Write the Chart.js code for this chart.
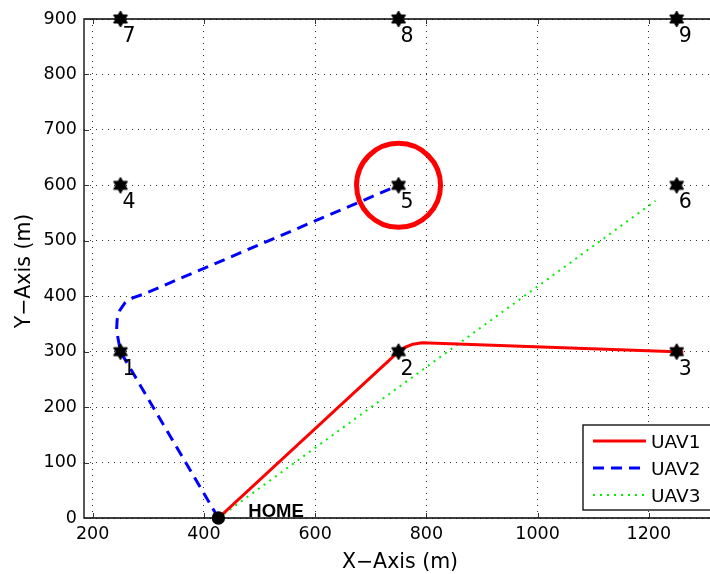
<!DOCTYPE html>
<html><head><meta charset="utf-8">
<script src="https://cdn.jsdelivr.net/npm/chart.js@4.4.1/dist/chart.umd.min.js"></script>
<style>html,body{margin:0;padding:0;background:#fff;overflow:hidden}canvas{display:block}</style>
</head><body>
<canvas id="c" width="710" height="574"></canvas>
<script>
// ---- data ----
const xTicks = [200, 400, 600, 800, 1000, 1200];
const yTicks = [0, 100, 200, 300, 400, 500, 600, 700, 800, 900];
const waypointX = [250, 750, 1250, 250, 750, 1250, 250, 750, 1250];
const waypointY = [300, 300, 300, 600, 600, 600, 900, 900, 900];
const waypointLabels = ['1', '2', '3', '4', '5', '6', '7', '8', '9'];
const homeX = [426];
const homeY = [0];
const homeLabel = 'HOME';
const targetX = [750];
const targetY = [600];
const uav1X = [426, 750, 762, 776, 792, 1262];
const uav1Y = [0, 300, 308, 313.5, 316, 299.5];
const uav2X = [426, 250, 243, 244, 249, 258, 272, 292, 750];
const uav2Y = [0, 300, 338, 358, 375, 388, 397, 404, 600];
const uav3X = [426, 1212];
const uav3Y = [0, 572];
const seriesNames = ['UAV1', 'UAV2', 'UAV3'];
const xTitle = 'X\u2212Axis (m)';
const yTitle = 'Y\u2212Axis (m)';

const pts = (xs, ys) => xs.map((v, i) => ({x: v, y: ys[i]}));

// hexagram marker
const star = document.createElement('canvas');
star.width = 20; star.height = 20;
(function () {
  const g = star.getContext('2d');
  const R = 8, r = R / Math.sqrt(3);
  g.fillStyle = '#000';
  g.strokeStyle = '#000';
  g.lineWidth = 1;
  g.lineJoin = 'round';
  g.beginPath();
  for (let k = 0; k < 12; k++) {
    const ang = -Math.PI / 2 + k * Math.PI / 6;
    const rad = k % 2 === 0 ? R : r;
    const px = 10 + rad * Math.cos(ang), py = 10 + rad * Math.sin(ang);
    k === 0 ? g.moveTo(px, py) : g.lineTo(px, py);
  }
  g.closePath();
  g.fill();
  g.stroke();
})();

const FONT = '"DejaVu Sans", sans-serif';

const framePlugin = {
  id: 'frame',
  beforeDatasetsDraw(chart) {
    const {ctx, chartArea: a, scales: {x, y}} = chart;
    ctx.save();
    ctx.setLineDash([]);
    ctx.strokeStyle = '#000';
    ctx.lineWidth = 1.3;
    ctx.beginPath();
    ctx.moveTo(a.right + 5, a.top); ctx.lineTo(a.left, a.top);
    ctx.lineTo(a.left, a.bottom); ctx.lineTo(a.right + 5, a.bottom);
    ctx.stroke();
    ctx.lineWidth = 1;
    ctx.strokeStyle = '#333';
    ctx.beginPath();
    xTicks.forEach(v => {
      const px = Math.round(x.getPixelForValue(v)) + 0.5;
      ctx.moveTo(px, a.bottom); ctx.lineTo(px, a.bottom - 5);
      ctx.moveTo(px, a.top); ctx.lineTo(px, a.top + 5);
    });
    yTicks.forEach(v => {
      const py = Math.round(y.getPixelForValue(v)) + 0.5;
      ctx.moveTo(a.left, py); ctx.lineTo(a.left + 5, py);
    });
    ctx.stroke();
    ctx.restore();
  }
};

const overlayPlugin = {
  id: 'overlay',
  afterDatasetsDraw(chart) {
    const {ctx, scales: {x, y}} = chart;
    ctx.save();
    // waypoint numbers
    ctx.fillStyle = '#000';
    ctx.font = '20.5px ' + FONT;
    ctx.textAlign = 'left';
    ctx.textBaseline = 'alphabetic';
    waypointX.forEach((v, i) => {
      const px = x.getPixelForValue(v), py = y.getPixelForValue(waypointY[i]);
      ctx.fillText(waypointLabels[i], px + 2, py + 23);
    });
    // HOME
    ctx.font = 'bold 18.5px "Liberation Sans", Arial, sans-serif';
    const hx = x.getPixelForValue(homeX[0]), hy = y.getPixelForValue(homeY[0]);
    ctx.fillText(homeLabel, hx + 30, hy - 1.5);
    // axis titles
    ctx.font = '20.5px ' + FONT;
    ctx.textAlign = 'center';
    ctx.fillText(xTitle, 400, 568);
    ctx.save();
    ctx.translate(30, 271);
    ctx.rotate(-Math.PI / 2);
    ctx.fillText(yTitle, 0, 0);
    ctx.restore();
    // legend
    ctx.fillStyle = '#fff';
    ctx.fillRect(583, 425, 140, 85);
    ctx.strokeStyle = '#000';
    ctx.lineWidth = 1.3;
    ctx.setLineDash([]);
    ctx.strokeRect(583, 425, 140, 85);
    const rows = [441, 468, 495];
    const sets = chart.data.datasets.filter(d => seriesNames.includes(d.label));
    sets.forEach((d, i) => {
      ctx.save();
      ctx.strokeStyle = d.borderColor;
      ctx.lineWidth = d.borderWidth;
      ctx.setLineDash(d.borderDash || []);
      ctx.beginPath();
      ctx.moveTo(593, rows[i]); ctx.lineTo(646, rows[i]);
      ctx.stroke();
      ctx.restore();
      ctx.fillStyle = '#000';
      ctx.font = '18.5px ' + FONT;
      ctx.textAlign = 'left';
      ctx.fillText(d.label, 651, rows[i] + 7);
    });
    ctx.restore();
  }
};

new Chart(document.getElementById('c'), {
  type: 'scatter',
  data: {
    datasets: [
      {label: 'waypoints', data: pts(waypointX, waypointY), pointStyle: star, pointRadius: 8, clip: false},
      {label: 'home', data: pts(homeX, homeY), pointStyle: 'circle', pointRadius: 6.7,
        backgroundColor: '#000', borderColor: '#000', borderWidth: 0, clip: false},
      {label: 'target', data: pts(targetX, targetY), pointStyle: 'circle', pointRadius: 42,
        backgroundColor: 'rgba(0,0,0,0)', borderColor: '#ff0000', borderWidth: 5},
      {label: 'UAV1', data: pts(uav1X, uav1Y), showLine: true, borderColor: '#ff0000', borderWidth: 3,
        pointRadius: 0, tension: 0, borderJoinStyle: 'round'},
      {label: 'UAV2', data: pts(uav2X, uav2Y), showLine: true, borderColor: '#0000ff', borderWidth: 3,
        borderDash: [11, 7], pointRadius: 0, tension: 0},
      {label: 'UAV3', data: pts(uav3X, uav3Y), showLine: true, borderColor: '#00ee00', borderWidth: 2,
        borderDash: [2, 5], pointRadius: 0, tension: 0}
    ]
  },
  options: {
    responsive: false,
    animation: false,
    devicePixelRatio: 1,
    layout: {autoPadding: false, padding: {top: 19, left: 0, right: 0, bottom: 0}},
    plugins: {legend: {display: false}, tooltip: {enabled: false}},
    scales: {
      x: {
        type: 'linear', min: 184.4, max: 1310,
        afterBuildTicks: s => { s.ticks = xTicks.map(v => ({value: v})); },
        afterFit: s => { s.height = 56; },
        grid: {color: '#333', lineWidth: 1, drawTicks: false},
        border: {display: false, dash: [1, 5]},
        ticks: {font: {family: 'DejaVu Sans', size: 17.5}, color: '#000', padding: 6, maxRotation: 0,
          callback: v => String(v)}
      },
      y: {
        type: 'linear', min: 0, max: 900,
        afterBuildTicks: s => { s.ticks = yTicks.map(v => ({value: v})); },
        afterFit: s => { s.width = 84; },
        grid: {color: '#333', lineWidth: 1, drawTicks: false},
        border: {display: false, dash: [1, 5]},
        ticks: {font: {family: 'DejaVu Sans', size: 17.5}, color: '#000', padding: 7,
          callback: v => String(v)}
      }
    }
  },
  plugins: [framePlugin, overlayPlugin]
});
</script>
</body></html>
